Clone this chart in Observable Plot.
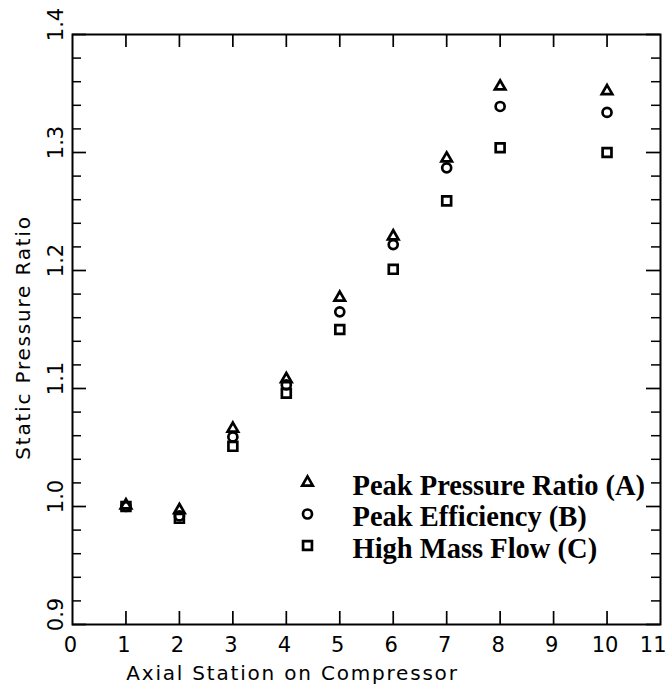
<!DOCTYPE html>
<html>
<head>
<meta charset="utf-8">
<script src="https://cdn.jsdelivr.net/npm/d3@7"></script>
<script src="https://cdn.jsdelivr.net/npm/@observablehq/plot@0.6"></script>
<style>
html, body { margin: 0; padding: 0; background: #fff; }
#chart svg { display: block; }
</style>
</head>
<body>
<div id="chart"></div>
<script>
// ---- data ----
const stations = [1, 2, 3, 4, 5, 6, 7, 8, 10];
const peakPressureRatio = [1.001, 0.997, 1.066, 1.108, 1.177, 1.229, 1.295, 1.356, 1.352];
const peakEfficiency    = [1.000, 0.992, 1.059, 1.103, 1.165, 1.222, 1.287, 1.339, 1.334];
const highMassFlow      = [1.000, 0.990, 1.051, 1.096, 1.150, 1.201, 1.259, 1.304, 1.300];
const seriesNames = ["Peak Pressure Ratio (A)", "Peak Efficiency (B)", "High Mass Flow (C)"];
const seriesSymbols = ["triangle", "circle", "square"];
const xTickLabels = [0, 1, 2, 3, 4, 5, 6, 7, 8, 9, 10];
const xLastTickLabel = [11];
const xInnerTicks = [1, 2, 3, 4, 5, 6, 7, 8, 9, 10];
const yMajorTicks = [0.9, 1.0, 1.1, 1.2, 1.3, 1.4];
const yMinorTicks = [0.92, 0.94, 0.96, 0.98, 1.02, 1.04, 1.06, 1.08, 1.12, 1.14, 1.16, 1.18,
                     1.22, 1.24, 1.26, 1.28, 1.32, 1.34, 1.36, 1.38];
const xTitle = "Axial Station on Compressor";
const yTitle = "Static Pressure Ratio";

// ---- layout ----
const W = 667, H = 690;
const mL = 72, mT = 34, mR = 7, mB = 66;
const fw = W - mL - mR, fh = H - mT - mB;
const axisFont = "DejaVu Sans";
const legendFont = "Liberation Serif";
const symbolR = [3.9, 4.5, 5.0];
const symbolStroke = 2.7;

const seriesValues = [peakPressureRatio, peakEfficiency, highMassFlow];
const points = seriesNames.flatMap((name, i) =>
  stations.map((s, j) => ({series: name, station: s, value: seriesValues[i][j]})));

const tickLabelStyle = {fontSize: 21, fontFamily: axisFont, fill: "black"};
const titleStyle = {fontSize: 20, fontFamily: axisFont, fill: "black"};

const marks = [
  Plot.frame({stroke: "black", strokeWidth: 2}),
  // inward ticks, left
  Plot.tickY(yMajorTicks, {y: d => d, insetRight: fw - 14, stroke: "black", strokeWidth: 1.7}),
  Plot.tickY(yMinorTicks, {y: d => d, insetRight: fw - 9, stroke: "black", strokeWidth: 1.5}),
  // inward ticks, right
  Plot.tickY(yMajorTicks, {y: d => d, insetLeft: fw - 14, stroke: "black", strokeWidth: 1.7}),
  Plot.tickY(yMinorTicks, {y: d => d, insetLeft: fw - 9, stroke: "black", strokeWidth: 1.5}),
  // inward ticks, bottom and top
  Plot.tickX(xInnerTicks, {x: d => d, insetTop: fh - 13, stroke: "black", strokeWidth: 1.7}),
  Plot.tickX(xInnerTicks, {x: d => d, insetBottom: fh - 13, stroke: "black", strokeWidth: 1.7}),
  // tick labels
  Plot.text(xTickLabels, {x: d => d, text: d => String(d), frameAnchor: "bottom", dy: 21, dx: -2,
    textAnchor: "middle", lineAnchor: "middle", ...tickLabelStyle}),
  Plot.text(xLastTickLabel, {x: d => d, text: d => String(d), frameAnchor: "bottom", dy: 21, dx: 6,
    textAnchor: "end", lineAnchor: "middle", ...tickLabelStyle}),
  Plot.text(yMajorTicks, {y: d => d, text: d => d.toFixed(1), frameAnchor: "left", dx: -16, dy: -10, rotate: -90,
    textAnchor: "middle", lineAnchor: "middle", ...tickLabelStyle}),
  // axis titles
  Plot.text([xTitle], {x: null, y: null, text: d => d, frameAnchor: "bottom", dx: -74, dy: 49,
    textAnchor: "middle", lineAnchor: "middle", ...titleStyle}),
  Plot.text([yTitle], {x: null, y: null, text: d => d, frameAnchor: "left", dx: -49, dy: 8, rotate: -90,
    textAnchor: "middle", lineAnchor: "middle", ...titleStyle}),
];

// data points
seriesNames.forEach((name, i) => {
  marks.push(Plot.dot(points.filter(p => p.series === name), {
    x: "station", y: "value", symbol: seriesSymbols[i], r: symbolR[i],
    stroke: "black", strokeWidth: symbolStroke, fill: "none"
  }));
});

// legend inside the frame
seriesNames.forEach((name, i) => {
  marks.push(Plot.dot([name], {
    x: null, y: null, frameAnchor: "top-left", dx: 235, dy: 448 + i * 31.5,
    symbol: seriesSymbols[i], r: symbolR[i], stroke: "black", strokeWidth: symbolStroke, fill: "none"
  }));
  marks.push(Plot.text([name], {
    x: null, y: null, text: d => d, frameAnchor: "top-left", dx: 280, dy: 451 + i * 31.5,
    textAnchor: "start", lineAnchor: "middle", fontSize: 28.5, fontWeight: "bold",
    fontFamily: legendFont, fill: "black"
  }));
});

const chart = Plot.plot({
  width: W, height: H,
  marginLeft: mL, marginTop: mT, marginRight: mR, marginBottom: mB,
  x: {domain: [0, 11], axis: null},
  y: {domain: [0.9, 1.4], axis: null},
  style: {background: "white", fontFamily: axisFont, color: "black"},
  marks
});
// widen the letter spacing of the two axis titles, as in the plotter font of the original
d3.select(chart).selectAll("text")
  .filter(function () { return this.textContent === xTitle || this.textContent === yTitle; })
  .style("letter-spacing", "1.8px");
document.getElementById("chart").appendChild(chart);
</script>
</body>
</html>
